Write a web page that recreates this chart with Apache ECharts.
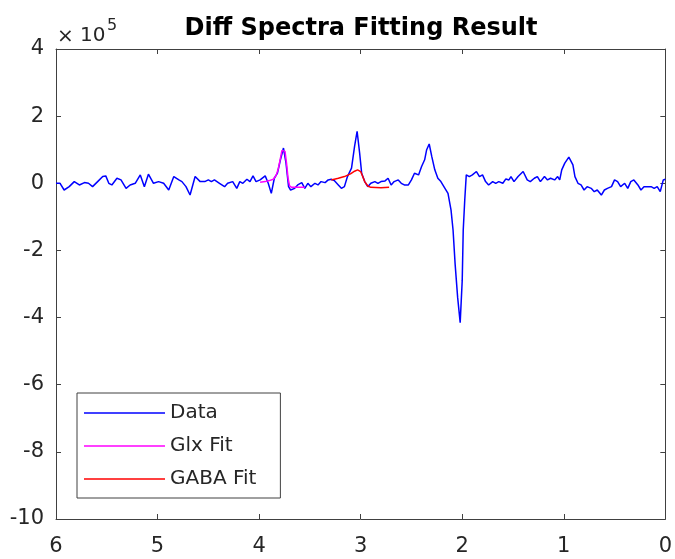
<!DOCTYPE html>
<html>
<head>
<meta charset="utf-8">
<script src="https://cdn.jsdelivr.net/npm/echarts@6/dist/echarts.min.js"></script>
<style>
html,body{margin:0;padding:0;background:#fff;}
#chart{width:675px;height:559px;}
</style>
</head>
<body>
<div id="chart"></div>
<script>
// Values in units of 1e5
var dataPpm = [6.00,5.96,5.92,5.87,5.82,5.77,5.72,5.68,5.64,5.59,5.54,5.51,5.48,5.45,5.40,5.36,5.31,5.27,5.22,5.17,5.13,5.09,5.04,4.99,4.94,4.89,4.84,4.79,4.76,4.72,4.68,4.63,4.58,4.535,4.50,4.47,4.44,4.39,4.34,4.31,4.26,4.22,4.19,4.16,4.12,4.09,4.06,4.03,3.99,3.94,3.91,3.88,3.85,3.82,3.79,3.76,3.735,3.71,3.69,3.65,3.62,3.58,3.55,3.52,3.49,3.45,3.42,3.39,3.35,3.32,3.29,3.26,3.22,3.19,3.16,3.13,3.09,3.06,3.035,3.01,2.99,2.96,2.93,2.90,2.86,2.83,2.80,2.76,2.73,2.70,2.67,2.63,2.60,2.57,2.53,2.50,2.47,2.43,2.40,2.37,2.35,2.325,2.30,2.27,2.24,2.21,2.17,2.14,2.11,2.09,2.07,2.045,2.02,2.00,1.99,1.975,1.96,1.93,1.90,1.86,1.83,1.80,1.77,1.74,1.70,1.67,1.64,1.60,1.57,1.54,1.52,1.49,1.45,1.40,1.36,1.33,1.29,1.26,1.23,1.19,1.16,1.13,1.09,1.06,1.04,1.02,0.99,0.95,0.91,0.89,0.86,0.83,0.80,0.77,0.73,0.70,0.67,0.63,0.60,0.57,0.53,0.50,0.47,0.44,0.40,0.37,0.34,0.31,0.27,0.24,0.21,0.17,0.14,0.11,0.08,0.05,0.02,0.00];
var dataVal = [0.0,0.0,-0.2,-0.1,0.05,-0.05,0.02,0.0,-0.1,0.05,0.2,0.22,0.0,-0.05,0.15,0.1,-0.15,-0.05,0.0,0.25,-0.1,0.27,0.0,0.05,0.0,-0.2,0.2,0.1,0.05,-0.1,-0.35,0.2,0.05,0.05,0.1,0.05,0.1,0.0,-0.1,0.0,0.05,-0.15,0.05,0.0,0.12,0.05,0.22,0.05,0.1,0.22,0.0,-0.3,0.15,0.3,0.7,1.05,0.6,-0.1,-0.2,-0.15,-0.05,0.02,-0.15,0.0,-0.1,0.0,-0.05,0.05,0.02,0.1,0.12,0.08,-0.05,-0.15,-0.1,0.2,0.45,1.1,1.55,0.9,0.3,0.05,-0.1,0.0,0.05,0.0,0.05,0.07,0.15,-0.05,0.05,0.1,0.0,-0.05,-0.05,0.1,0.3,0.25,0.5,0.7,1.0,1.17,0.8,0.4,0.15,0.05,-0.15,-0.3,-0.8,-1.4,-2.4,-3.4,-4.15,-2.9,-1.4,-0.5,0.25,0.2,0.25,0.35,0.2,0.25,0.05,-0.05,0.05,0.0,0.05,0.0,0.13,0.1,0.2,0.05,0.2,0.35,0.1,0.05,0.15,0.2,0.05,0.2,0.1,0.15,0.1,0.2,0.1,0.4,0.6,0.78,0.55,0.2,0.0,-0.05,-0.2,-0.1,-0.15,-0.25,-0.2,-0.35,-0.2,-0.15,-0.1,0.1,0.05,-0.1,0.0,-0.15,0.05,0.1,-0.05,-0.2,-0.1,-0.1,-0.1,-0.15,-0.1,-0.25,0.1,0.12];
var glxPpm = [3.99,3.94,3.90,3.86,3.83,3.81,3.79,3.775,3.76,3.745,3.73,3.715,3.70,3.68,3.63,3.55];
var glxVal = [0.03,0.05,0.08,0.12,0.25,0.45,0.75,0.98,1.03,0.95,0.6,0.15,-0.08,-0.12,-0.12,-0.12];
var gabaPpm = [3.29,3.22,3.16,3.10,3.06,3.03,3.00,2.98,2.96,2.93,2.90,2.80,2.72];
var gabaVal = [0.1,0.15,0.2,0.28,0.36,0.4,0.35,0.2,0.05,-0.08,-0.12,-0.13,-0.12];
var seriesNames = ['Data','Glx Fit','GABA Fit'];
var seriesColors = ['#0000ff','#ff00ff','#ff0000'];
var xTicks = [0,1,2,3,4,5,6];
var yTicks = [-10,-8,-6,-4,-2,0,2,4];
var titleText = 'Diff Spectra Fitting Result';

function zip(a,b){var r=[];for(var i=0;i<a.length;i++)r.push([a[i],b[i]]);return r;}

var axisColor = '#404040';
var labelColor = '#262626';
var font = 'DejaVu Sans, sans-serif';

var chart = echarts.init(document.getElementById('chart'));
var baseX = {
  type:'value', min:xTicks[0], max:xTicks[xTicks.length-1], interval:1, inverse:true,
  axisLine:{show:true,onZero:false,lineStyle:{color:axisColor,width:1}},
  axisTick:{show:true,inside:true,length:5,lineStyle:{color:axisColor}},
  splitLine:{show:false}
};
var baseY = {
  type:'value', min:yTicks[0], max:yTicks[yTicks.length-1], interval:2,
  axisLine:{show:true,onZero:false,lineStyle:{color:axisColor,width:1}},
  axisTick:{show:true,inside:true,length:5,lineStyle:{color:axisColor}},
  splitLine:{show:false}
};
chart.setOption({
  animation:false,
  backgroundColor:'#fff',
  grid:{left:56,right:9,top:49,bottom:40,containLabel:false},
  xAxis:[
    Object.assign({}, baseX, {position:'bottom',
      axisLabel:{show:true,fontSize:21,color:labelColor,fontFamily:font,margin:17}}),
    Object.assign({}, baseX, {position:'top',axisLabel:{show:false}})
  ],
  yAxis:[
    Object.assign({}, baseY, {position:'left',
      axisLabel:{show:true,fontSize:21,color:labelColor,fontFamily:font,margin:12}}),
    Object.assign({}, baseY, {position:'right',axisLabel:{show:false}})
  ],
  legend:{
    orient:'vertical', left:77, top:393,
    data:seriesNames.map(function(n){return {name:n, icon:'rect'};}),
    itemWidth:81, itemHeight:1.5, itemGap:11,
    padding:[9,24,8,7],
    borderColor:axisColor, borderWidth:1, backgroundColor:'#fff',
    textStyle:{fontSize:20,color:labelColor,fontFamily:font,lineHeight:22}
  },
  graphic:[
    {type:'text', x:361, y:29, style:{text:titleText, align:'center', verticalAlign:'middle', fontSize:24, fontWeight:'bold', fontFamily:font, fill:'#000'}},
    {type:'text', x:57, y:27, style:{text:'\u00d7', fontSize:20, fontFamily:font, fill:labelColor, verticalAlign:'top'}},
    {type:'text', x:80, y:26, style:{text:'10', fontSize:20, fontFamily:font, fill:labelColor, verticalAlign:'top'}},
    {type:'text', x:107, y:18, style:{text:'5', fontSize:16, fontFamily:font, fill:labelColor, verticalAlign:'top'}}
  ],
  series:[
    {name:seriesNames[0], type:'line', data:zip(dataPpm,dataVal), symbol:'none', showSymbol:false,
      lineStyle:{color:seriesColors[0],width:1.5}, itemStyle:{color:seriesColors[0]}, z:2},
    {name:seriesNames[1], type:'line', data:zip(glxPpm,glxVal), symbol:'none', showSymbol:false,
      lineStyle:{color:seriesColors[1],width:1.5}, itemStyle:{color:seriesColors[1]}, z:3},
    {name:seriesNames[2], type:'line', data:zip(gabaPpm,gabaVal), symbol:'none', showSymbol:false,
      lineStyle:{color:seriesColors[2],width:1.5}, itemStyle:{color:seriesColors[2]}, z:3}
  ]
});
</script>
</body>
</html>
